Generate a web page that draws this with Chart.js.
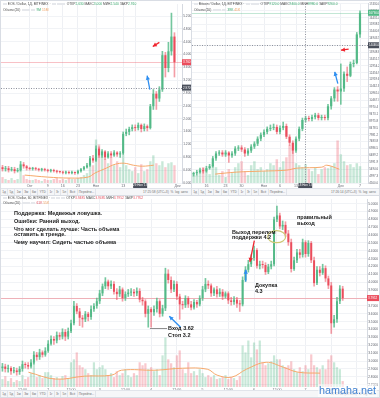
<!DOCTYPE html>
<html lang="ru"><head><meta charset="utf-8">
<title>EOS / Bitcoin</title>
<script src="https://cdn.jsdelivr.net/npm/chart.js@4.4.1/dist/chart.umd.min.js"></script>
<style>
html,body{margin:0;padding:0}
body{width:380px;height:398px;overflow:hidden;background:#fff;position:relative;font-family:Arial,"Liberation Sans",sans-serif}
.pane{position:absolute;box-sizing:border-box;border:1px solid #d9dde4;overflow:hidden;background:#fff}
.pane canvas{position:absolute;left:0;top:0}
.hdr{position:absolute;left:2px;font-size:3.3px;line-height:4px;color:#4a4a4a;white-space:nowrap;z-index:2}
.hdr .bx{display:inline-block;width:4px;height:2.6px;background:#e6e8ec;margin:0 .4px;vertical-align:middle}
.g{color:#3aa76d}.r{color:#e0505f}.o{color:#f0a060}
.tb{position:absolute;left:0;right:0;bottom:0;height:6px;background:#f5f6f8;border-top:1px solid #e1e4ea;font-size:3.2px;line-height:6px;color:#707070;white-space:nowrap;z-index:2}
.tb span{display:inline-block;padding:0 1.3px;border-right:1px solid #e1e4ea}
.tb .rt{position:absolute;right:2px;top:0;border:none}
.note{position:absolute;font-weight:bold;font-size:5.5px;line-height:6px;color:#1a1a1a;white-space:nowrap;z-index:3}
.wm{position:absolute;left:318px;top:384px;font-size:10.8px;line-height:13px;color:#3d7fd0;z-index:4;background:rgba(255,255,255,0.55);padding:0 1px}
</style></head>
<body>

<div class="pane" id="pA" style="left:0;top:0;width:192px;height:196px">
  <canvas id="cA" width="190" height="188"></canvas>
  <div class="hdr" style="top:1px"><span class="bx"></span>EOS / Dollar, 1Д, BITFINEX · <span class="bx"></span><span class="bx"></span><span class="bx"></span> ОТКР<span class="g">2.630</span> МАКС<span class="g">3.000</span> МИН<span class="g">2.540</span> ЗАКР<span class="g">2.910</span></div>
  <div class="hdr" style="top:7px">Объем (20) <span class="bx"></span><span class="bx"></span><span class="bx"></span> <span class="g">9M</span> <span class="o">15M</span></div>
  <div class="tb"><span>1д</span><span>5д</span><span>1м</span><span>3м</span><span>6м</span><span>YTD</span><span>1г</span><span>3г</span><span>5л</span><span>Всё</span><span>Перейти...</span><span class="rt">17:25:58 (UTC+3) &nbsp;% &nbsp;log &nbsp;авто</span></div>
</div>

<div class="pane" id="pB" style="left:191px;top:0;width:189px;height:196px">
  <canvas id="cB" width="187" height="188"></canvas>
  <div class="hdr" style="top:1px"><span class="bx"></span>Bitcoin / Dollar, 1Д, BITFINEX · <span class="bx"></span><span class="bx"></span><span class="bx"></span> ОТКР<span class="g">9120.0</span> МАКС<span class="g">9400.0</span> МИН<span class="g">8980.0</span> ЗАКР<span class="g">9260.0</span></div>
  <div class="hdr" style="top:7px">Объем (20) <span class="bx"></span><span class="bx"></span><span class="bx"></span> <span class="g">39K</span> <span class="o">41K</span></div>
  <div class="tb"><span>1д</span><span>5д</span><span>1м</span><span>3м</span><span>6м</span><span>YTD</span><span>1г</span><span>3г</span><span>5л</span><span>Всё</span><span>Перейти...</span><span class="rt">17:26:14 (UTC+3) &nbsp;% &nbsp;log &nbsp;авто</span></div>
</div>

<div class="pane" id="pC" style="left:0;top:195px;width:380px;height:203px">
  <canvas id="cC" width="378" height="196"></canvas>
  <div class="hdr" style="top:0px"><span class="bx"></span>EOS / Dollar, 60, BITFINEX · <span class="bx"></span><span class="bx"></span><span class="bx"></span> ОТКР<span class="r">3.9485</span> МАКС<span class="r">3.9485</span> МИН<span class="r">3.7952</span> ЗАКР<span class="r">3.7952</span></div>
  <div class="hdr" style="top:5px">Объем (20) <span class="bx"></span><span class="bx"></span><span class="bx"></span> <span class="r">61K</span> <span class="o">55K</span></div>
  <div class="tb"><span>1д</span><span>5д</span><span>1м</span><span>3м</span><span>6м</span><span>YTD</span><span>1г</span><span>3г</span><span>5л</span><span>Всё</span><span>Перейти...</span><span class="rt">17:27:02 (UTC+3) &nbsp;% &nbsp;log &nbsp;авто</span></div>
</div>

<div class="note" style="left:14px;top:210px">Поддержка: Медвежья ловушка.</div>
<div class="note" style="left:14px;top:218px">Ошибки: Ранний выход.</div>
<div class="note" style="left:14px;top:226px">Что мог сделать лучше: Часть объема</div>
<div class="note" style="left:14px;top:231px">оставить в тренде.</div>
<div class="note" style="left:14px;top:239px">Чему научил: Сидеть частью объема</div>
<div class="note" style="left:168px;top:325px">Вход 3.62</div>
<div class="note" style="left:168px;top:332px">Стоп 3.2</div>
<div class="note" style="left:232px;top:229px">Выход перелом</div>
<div class="note" style="left:232px;top:234px">поддержки 4.2</div>
<div class="note" style="left:255px;top:282px">Докупка</div>
<div class="note" style="left:255px;top:288px">4.3</div>
<div class="note" style="left:297px;top:214px">правильный</div>
<div class="note" style="left:297px;top:220px">выход</div>
<div class="wm">hamaha.net</div>

<script>
// ================= DATA =================
// --- Panel A: EOS / Dollar, daily ---
const eosDaySlots = 60;
const eosDayTickSlots = [9, 15, 20, 25, 31, 40, 44, 58];
const eosDayTickText  = ['Окт', '9', '16', '23', 'Ноя', '13', '20', 'Дек'];
const eosDayOpen  = [0.49,0.43,0.46,0.40,0.43,0.37,0.40,0.58,0.52,0.46, 0.44,0.46,0.43,0.41,0.43,0.40,0.38,0.40,0.37,0.35, 0.34,0.32,0.34,0.31,0.33,0.31,0.37,0.43,0.49,0.55, 0.77,0.70,1.07,0.86,0.98,0.80,0.92,0.86,0.95,0.89, 0.92,1.53,1.59,1.68,1.74,1.71,1.81,1.68,1.77,1.71, 2.39,2.78,2.63,2.91,3.98,3.58,4.10,4.56];
const eosDayClose = [0.43,0.46,0.40,0.43,0.37,0.40,0.58,0.52,0.46,0.44, 0.46,0.43,0.41,0.43,0.40,0.38,0.40,0.37,0.35,0.34, 0.32,0.34,0.31,0.33,0.31,0.37,0.43,0.49,0.55,0.77, 0.70,1.07,0.86,0.98,0.80,0.92,0.86,0.95,0.89,0.92, 1.53,1.59,1.68,1.74,1.71,1.81,1.68,1.77,1.71,2.39, 2.78,2.63,2.91,3.98,3.58,4.10,4.56,3.76];
const eosDayHigh  = [0.55,0.52,0.52,0.49,0.49,0.46,0.67,0.64,0.55,0.49, 0.49,0.49,0.46,0.46,0.46,0.43,0.43,0.43,0.40,0.37, 0.37,0.37,0.37,0.37,0.35,0.40,0.46,0.52,0.61,0.83, 0.86,1.16,1.13,1.04,1.01,0.98,0.98,1.01,0.98,0.98, 1.59,1.68,1.74,1.81,1.81,1.87,1.84,1.84,1.81,2.45, 2.91,2.85,3.00,4.10,4.07,4.38,5.29,4.68];
const eosDayLow   = [0.37,0.37,0.34,0.37,0.31,0.34,0.37,0.46,0.40,0.40, 0.40,0.40,0.37,0.37,0.37,0.34,0.34,0.34,0.31,0.31, 0.28,0.28,0.28,0.28,0.27,0.28,0.34,0.40,0.46,0.52, 0.64,0.67,0.80,0.80,0.73,0.77,0.80,0.83,0.83,0.80, 0.89,1.47,1.50,1.62,1.62,1.65,1.59,1.62,1.62,1.68, 2.29,2.29,2.54,2.85,3.30,3.46,3.98,3.30];
const eosDayVolume = [6,4,3,5,3,4,14,8,4,3, 3,4,3,2,4,3,3,4,5,3, 4,3,5,4,4,5,6,8,10,20, 18,44,39,32,24,20,26,18,22,16, 29,18,14,12,16,10,19,12,14,22, 28,20,18,22,16,20,21,18];
const eosDayVolMA = [[0,8],[10,6],[20,5],[28,6],[31,10],[36,15],[40,19],[44,20],[48,18],[52,17],[57,18]];

// --- Panel B: Bitcoin / Dollar, daily ---
const btcSlots = 55;
const btcTickSlots = [4, 10, 15, 22, 27, 32, 46, 52];
const btcTickText  = ['16', '23', '30', 'Ноя', '6', '13', 'Дек', '7'];
const btcOpen  = [5140,5210,5280,5420,5350,5570,5710,6280,6630,6700, 6560,6700,6490,6630,6990,7060,6920,6630,6840,7130, 7340,7700,7980,8190,8410,8480,8550,8190,8480,8620, 7840,7410,6840,7700,8410,9050,9190,9120,9260,9400, 9190,9260,9190,10040,10610,11250,11110,11320,12390,12240, 13100,13170,15230];
const btcClose = [5210,5280,5420,5350,5570,5710,6280,6630,6700,6560, 6700,6490,6630,6990,7060,6920,6630,6840,7130,7340, 7700,7980,8190,8410,8480,8550,8190,8480,8620,7840, 7410,6840,7700,8410,9050,9190,9120,9260,9400,9190, 9260,9190,10040,10610,11250,11110,11320,12390,12240,13100, 13170,15230,16790];
const btcHigh  = [5280,5420,5570,5570,5710,5850,6420,6770,6840,6840, 6840,6770,6770,7130,7200,7200,7060,6990,7270,7480, 7840,8120,8340,8550,8690,8760,8690,8620,8900,8760, 7980,7550,7840,8550,9190,9330,9330,9400,9540,9540, 9400,9400,10180,10750,11390,11460,13100,12530,12880,13240, 13380,15370,16930];
const btcLow   = [5000,5070,5210,5210,5280,5490,5640,6130,6490,6420, 6420,5990,6350,6490,6840,6770,6420,6490,6700,6990, 7200,7550,7840,8050,8270,8340,8050,8050,8340,7700, 7200,6630,6700,7550,8270,8900,8980,8980,9120,9050, 9050,9050,9050,9830,10400,10400,10180,11110,11820,12170, 12880,13100,15010];
const btcVolume = [10,8,14,16,12,9,18,16, 8,12,6,14,10, 16,20,22,12,8, 18,22,14,16,12, 14,20,18,24,16,22,26, 38,33, 20,18,16,19,14, 12,16,9,14,16, 15,17, 20,43, 29,22, 18,19,16, 20,17];
const btcVolMA = [[0,9],[8.9,11],[19.4,12],[29.8,13],[34,15],[44.4,16],[46.5,18],[51.7,14]];

// --- Panel C: EOS / Dollar, 60 min ---
const eosHourSlots = 128;
const eosHourTickSlots = [7, 16, 24, 34, 43, 52, 61, 70, 79, 88, 96, 106, 115, 124];
const eosHourTickText  = ['12:00','2','12:00','3','12:00','4','12:00','5','12:00','6','12:00','7','12:00','8'];
const eosHourOpen  = [2.91,2.93,2.90,2.91,2.87,2.88,2.86,2.90,2.96,2.95, 2.93,2.98,3.08,3.05,3.11,3.08,3.13,3.22,3.28,3.26, 3.33,3.31,3.37,3.31,3.38,3.48,3.70,3.63,3.55,3.53, 3.60,3.56,3.66,3.70,3.76,3.86,3.95,4.01,3.95,3.98, 3.88,3.85,3.91,3.80,3.85,3.87,3.88,3.86,3.89,3.78, 3.76,3.60,3.66,3.62,3.66,3.76,3.60,3.67,4.11,4.03, 3.91,3.98,3.82,3.72,3.71,3.80,3.72,3.68,3.75,3.72, 3.80,3.91,3.98,3.96,3.86,3.91,3.85,3.88,3.82,3.86, 3.77,3.75,3.78,3.73,3.72,4.03,4.16,4.23,4.31,4.41, 4.21,4.23,4.22,4.13,4.20,4.23,4.80,4.85,4.71,4.73, 4.62,4.51,4.17,4.28,4.38,4.35,4.51,4.36,4.50,4.28, 3.99,4.16,4.12,4.18,4.05,3.96,3.48,3.53,3.76,3.92];
const eosHourClose = [2.93,2.90,2.91,2.87,2.88,2.86,2.90,2.96,2.95,2.93, 2.98,3.08,3.05,3.11,3.08,3.13,3.22,3.28,3.26,3.33, 3.31,3.37,3.31,3.38,3.48,3.70,3.63,3.55,3.53,3.60, 3.56,3.66,3.70,3.76,3.86,3.95,4.01,3.95,3.98,3.88, 3.85,3.91,3.80,3.85,3.87,3.88,3.86,3.89,3.78,3.76, 3.60,3.66,3.62,3.66,3.76,3.60,3.67,4.11,4.03,3.91, 3.98,3.82,3.72,3.71,3.80,3.72,3.68,3.75,3.72,3.80, 3.91,3.98,3.96,3.86,3.91,3.85,3.88,3.82,3.86,3.77, 3.75,3.78,3.73,3.72,4.03,4.16,4.23,4.31,4.41,4.21, 4.23,4.22,4.13,4.20,4.23,4.80,4.85,4.71,4.73,4.62, 4.51,4.17,4.28,4.38,4.35,4.51,4.36,4.50,4.28,3.99, 4.16,4.12,4.18,4.05,3.96,3.48,3.53,3.76,3.92,3.80];
const eosHourHigh  = [2.97,2.96,2.95,2.93,2.92,2.91,2.93,3.00,2.98,2.98, 3.02,3.12,3.11,3.15,3.13,3.17,3.26,3.32,3.31,3.37, 3.36,3.41,3.40,3.42,3.52,3.76,3.73,3.67,3.58,3.63, 3.62,3.70,3.73,3.80,3.90,3.98,4.06,4.03,4.02,4.01, 3.92,3.95,3.93,3.88,3.91,3.92,3.91,3.93,3.92,3.81, 3.78,3.70,3.68,3.70,3.80,3.78,3.71,4.18,4.16,4.07, 4.02,4.01,3.85,3.76,3.83,3.82,3.76,3.78,3.77,3.83, 3.95,4.05,4.02,3.98,3.93,3.95,3.92,3.91,3.88,3.88, 3.81,3.82,3.81,3.77,4.07,4.20,4.28,4.35,4.46,4.43, 4.27,4.27,4.25,4.23,4.27,4.83,4.97,4.88,4.78,4.77, 4.66,4.55,4.32,4.42,4.42,4.55,4.53,4.53,4.52,4.32, 4.20,4.20,4.23,4.21,4.08,4.00,3.58,3.81,3.96,3.95];
const eosHourLow   = [2.87,2.86,2.86,2.83,2.85,2.82,2.83,2.87,2.91,2.90, 2.91,2.96,3.01,3.02,3.05,3.06,3.11,3.20,3.21,3.23, 3.27,3.28,3.26,3.28,3.36,3.46,3.60,3.45,3.43,3.50, 3.51,3.53,3.63,3.67,3.73,3.83,3.92,3.91,3.92,3.85, 3.78,3.82,3.76,3.77,3.82,3.83,3.82,3.83,3.75,3.71, 3.56,3.43,3.43,3.58,3.62,3.56,3.57,3.64,3.99,3.87, 3.88,3.78,3.53,3.66,3.68,3.68,3.65,3.66,3.68,3.70, 3.77,3.88,3.92,3.82,3.83,3.81,3.82,3.78,3.80,3.73, 3.71,3.72,3.68,3.63,3.70,4.01,4.13,4.20,4.28,4.18, 4.17,4.18,4.10,4.11,4.17,4.21,4.77,4.68,4.67,4.58, 4.47,4.13,4.15,4.25,4.31,4.32,4.32,4.33,4.25,3.95, 3.97,4.08,4.10,4.01,3.92,3.35,3.43,3.49,3.73,3.77];
const eosHourVolume = [8,11,6,9,5,7,6, 12,8,10,14,25,10,12,9,15, 15,12,9,10,8,11,12,9,25, 28,35,22,20,18, 14,12,25,18,20,22,18, 12,14,10,16,12,14,18,12, 10,14,12,25,22,24,18,20, 16,18,12,32,50, 28,24,20,32,37,18,14, 25,14,16,12,18,14,10,12, 10,12,8,9,10,12,8,10,9,7,11, 42,35,47,30,45,38,47, 25,22,24,26,32,28, 28,22,20,22,26,18,15,20,16,22,18, 33,22,20,18,22,18,28,32,25,20,18,6];
const eosHourVolMA = [[0,15],[11,8],[23,11],[34,12],[38,17],[52,17],[63,19],[73,18],[77,12],[83,10],[89,18],[97,25],[104,20],[110,15],[119,14]];

// annotation anchors (slot, price)
const eosDayMarks  = {crossPrice: 2.97, dateSlot: 51, dateText: "29 Ноя '17", redArrow: [59.5,4.38,56.6,4.25], blueArrow: [55.3,2.91,54.1,3.34]};
const btcMarks     = {crossPrice: 14446, crossSlot: 37.5, dateText: "18 Ноя '17", redArrow: [55.6,14160,52.4,14090], blueArrow: [51.1,11675,49.8,12528]};
const eosHourMarks = {entryArrow: [62.1,3.43,57.5,3.57], stopLine: [49.6,56.6,3.42], exitArrow: [92.2,4.53,90.4,4.26], addArrow: [88.7,4.01,88.7,4.16], ellipse: [101.3,4.58]};

// ================= DRAWING =================
const GREEN = '#53b987', RED = '#eb4d5c';
const GREEN_V = 'rgba(83,185,135,0.32)', RED_V = 'rgba(235,77,92,0.30)';

function buildLabels(n, slots, texts) {
  const a = new Array(n).fill('');
  slots.forEach((s, k) => { a[s] = texts[k]; });
  return a;
}
function X(ch, s) { return ch.scales.xl.getPixelForValue(s); }
function Y(ch, v) { return ch.scales.y.getPixelForValue(v); }
function arrow(ctx, x1, y1, x2, y2, col) {
  ctx.save(); ctx.strokeStyle = col; ctx.fillStyle = col; ctx.lineWidth = 1.3;
  ctx.beginPath(); ctx.moveTo(x1, y1); ctx.lineTo(x2, y2); ctx.stroke();
  const a = Math.atan2(y2 - y1, x2 - x1), L = 4.5;
  ctx.beginPath(); ctx.moveTo(x2, y2);
  ctx.lineTo(x2 - L * Math.cos(a - 0.5), y2 - L * Math.sin(a - 0.5));
  ctx.lineTo(x2 - L * Math.cos(a + 0.5), y2 - L * Math.sin(a + 0.5));
  ctx.closePath(); ctx.fill(); ctx.restore();
}
function hLine(ch, v, col, dash) {
  const {ctx, chartArea: a} = ch; const y = Math.round(Y(ch, v)) + 0.5;
  ctx.save(); ctx.strokeStyle = col; ctx.lineWidth = 1; if (dash) ctx.setLineDash(dash);
  ctx.beginPath(); ctx.moveTo(a.left, y); ctx.lineTo(a.right, y); ctx.stroke(); ctx.restore();
}
function vLine(ch, s, col, dash) {
  const {ctx, chartArea: a} = ch; const x = Math.round(X(ch, s)) + 0.5;
  ctx.save(); ctx.strokeStyle = col; ctx.lineWidth = 1; if (dash) ctx.setLineDash(dash);
  ctx.beginPath(); ctx.moveTo(x, a.top); ctx.lineTo(x, a.bottom); ctx.stroke(); ctx.restore();
}
function tag(ch, v, text, bg, fs) {
  const {ctx, chartArea: a} = ch; const y = Y(ch, v);
  ctx.save(); ctx.fillStyle = bg; ctx.fillRect(a.right, y - 3, ch.width - a.right, 6);
  ctx.fillStyle = '#fff'; ctx.font = fs + 'px Arial'; ctx.textBaseline = 'middle';
  ctx.fillText(text, a.right + 1, y + 0.3); ctx.restore();
}
function dateBox(ch, s, text) {
  const {ctx, chartArea: a} = ch; const x = X(ch, s);
  ctx.save(); ctx.fillStyle = '#4a4f5b'; ctx.fillRect(x - 7, a.bottom, 14, 5);
  ctx.fillStyle = '#fff'; ctx.font = '3px Arial'; ctx.textAlign = 'center'; ctx.textBaseline = 'middle';
  ctx.fillText(text, x, a.bottom + 2.6); ctx.restore();
}

function candleChart(id, c) {
  const labels = buildLabels(c.slots, c.tickSlots, c.tickText);
  const up = c.close.map((v, i) => v >= c.open[i]);
  const tickFont = {size: c.fs, family: 'Arial'};
  return new Chart(document.getElementById(id), {
    type: 'bar',
    data: {
      labels,
      datasets: [
        {label: 'body', data: c.open.map((o, i) => [o, c.close[i]]), backgroundColor: up.map(u => u ? GREEN : RED),
         barPercentage: 0.68, categoryPercentage: 1, grouped: false, minBarLength: 1, order: 0, yAxisID: 'y'},
        {label: 'wick', data: c.low.map((l, i) => [l, c.high[i]]), backgroundColor: up.map(u => u ? 'rgba(83,185,135,0.8)' : 'rgba(235,77,92,0.55)'),
         barThickness: 1, grouped: false, order: 1, yAxisID: 'y'},
        {label: 'vol', data: c.volume, backgroundColor: up.map(u => u ? GREEN_V : RED_V),
         barPercentage: 0.78, categoryPercentage: 1, grouped: false, order: 3, yAxisID: 'yv'},
        {type: 'line', label: 'ma', data: c.volMA.map(([x, y]) => ({x, y})), xAxisID: 'xl', yAxisID: 'yv',
         borderColor: '#f6a86a', borderWidth: 1, pointRadius: 0, tension: 0.4, order: 2}
      ]
    },
    options: {
      responsive: false, animation: false, events: [],
      layout: {padding: 0},
      plugins: {legend: {display: false}, tooltip: {enabled: false}},
      scales: {
        x: {type: 'category', offset: true,
            grid: {offset: false, drawTicks: false, color: g => labels[g.index] ? '#eef0f4' : 'rgba(0,0,0,0)'},
            border: {display: false},
            ticks: {autoSkip: false, maxRotation: 0, minRotation: 0, padding: 1, font: {size: 3.6, family: 'Arial'}, color: '#6a6d78', callback: (v, i) => labels[i]},
            afterFit: s => { s.height = c.xH; }},
        xl: {type: 'linear', display: false, min: -0.5, max: c.slots - 0.5},
        y: {type: 'linear', position: 'right', min: c.yMin, max: c.yMax,
            grid: {color: '#f1f3f6', drawTicks: false}, border: {display: true, color: '#d5d9e0'},
            ticks: {stepSize: c.step, includeBounds: false, padding: 1.2, font: tickFont, color: '#5d606b', callback: v => v.toFixed(c.digits)},
            afterFit: s => { s.width = c.yW; }},
        yv: {type: 'linear', display: false, min: 0, max: c.volMax}
      }
    },
    plugins: [{id: 'ov', beforeDatasetsDraw: ch => c.under(ch), afterDraw: ch => c.over(ch)}]
  });
}

// Panel A
candleChart('cA', {
  slots: eosDaySlots, tickSlots: eosDayTickSlots, tickText: eosDayTickText,
  open: eosDayOpen, high: eosDayHigh, low: eosDayLow, close: eosDayClose, volume: eosDayVolume, volMA: eosDayVolMA,
  yMin: 0, yMax: 5.57, step: 0.2, digits: 3, yW: 9, xH: 6, fs: 3.2, volMax: 181,
  under: ch => { hLine(ch, eosDayClose[eosDayClose.length - 1], 'rgba(235,77,92,0.35)'); },
  over: ch => {
    const m = eosDayMarks, ctx = ch.ctx;
    hLine(ch, m.crossPrice, '#8d919c', [1, 1.5]);
    tag(ch, m.crossPrice, m.crossPrice.toFixed(3), '#4a4f5b', 3);
    const last = eosDayClose[eosDayClose.length - 1];
    tag(ch, last, last.toFixed(3), RED, 3);
    dateBox(ch, m.dateSlot, m.dateText);
    const r = m.redArrow, b = m.blueArrow;
    arrow(ctx, X(ch, r[0]), Y(ch, r[1]), X(ch, r[2]), Y(ch, r[3]), '#f0262f');
    arrow(ctx, X(ch, b[0]), Y(ch, b[1]), X(ch, b[2]), Y(ch, b[3]), '#2e8ef0');
  }
});

// Panel B
candleChart('cB', {
  slots: btcSlots, tickSlots: btcTickSlots, tickText: btcTickText,
  open: btcOpen, high: btcHigh, low: btcLow, close: btcClose, volume: btcVolume, volMA: btcVolMA,
  yMin: 4500, yMax: 17430, step: 500, digits: 1, yW: 11, xH: 6, fs: 2.9, volMax: 181,
  under: ch => { hLine(ch, btcClose[btcClose.length - 1], 'rgba(83,185,135,0.35)'); },
  over: ch => {
    const m = btcMarks, ctx = ch.ctx;
    hLine(ch, m.crossPrice, '#8d919c', [1, 1.5]);
    vLine(ch, m.crossSlot, '#8d919c', [1, 1.5]);
    tag(ch, m.crossPrice, m.crossPrice.toFixed(1), '#4a4f5b', 2.8);
    const last = btcClose[btcClose.length - 1];
    tag(ch, last, last.toFixed(1), GREEN, 2.8);
    dateBox(ch, m.crossSlot, m.dateText);
    const r = m.redArrow, b = m.blueArrow;
    arrow(ctx, X(ch, r[0]), Y(ch, r[1]), X(ch, r[2]), Y(ch, r[3]), '#f0262f');
    arrow(ctx, X(ch, b[0]), Y(ch, b[1]), X(ch, b[2]), Y(ch, b[3]), '#2e8ef0');
  }
});

// Panel C
candleChart('cC', {
  slots: eosHourSlots, tickSlots: eosHourTickSlots, tickText: eosHourTickText,
  open: eosHourOpen, high: eosHourHigh, low: eosHourLow, close: eosHourClose, volume: eosHourVolume, volMA: eosHourVolMA,
  yMin: 2.67, yMax: 5.0575, step: 0.1, digits: 4, yW: 12, xH: 5, fs: 3.2, volMax: 190,
  under: ch => { hLine(ch, eosHourClose[eosHourClose.length - 1], 'rgba(235,77,92,0.4)'); },
  over: ch => {
    const m = eosHourMarks, ctx = ch.ctx;
    const last = eosHourClose[eosHourClose.length - 1];
    tag(ch, last, '3.7952', RED, 3);
    const s = m.stopLine;
    ctx.save(); ctx.strokeStyle = '#8f8f8f'; ctx.lineWidth = 1;
    ctx.beginPath(); ctx.moveTo(X(ch, s[0]), Math.round(Y(ch, s[2])) + 0.5); ctx.lineTo(X(ch, s[1]), Math.round(Y(ch, s[2])) + 0.5); ctx.stroke(); ctx.restore();
    const e = m.entryArrow, x = m.exitArrow, d = m.addArrow;
    arrow(ctx, X(ch, e[0]), Y(ch, e[1]), X(ch, e[2]), Y(ch, e[3]), '#2e8ef0');
    arrow(ctx, X(ch, x[0]), Y(ch, x[1]), X(ch, x[2]), Y(ch, x[3]), '#f0262f');
    arrow(ctx, X(ch, d[0]), Y(ch, d[1]), X(ch, d[2]), Y(ch, d[3]), '#2e8ef0');
    ctx.save(); ctx.strokeStyle = '#cdc774'; ctx.lineWidth = 1.2;
    ctx.beginPath(); ctx.ellipse(X(ch, m.ellipse[0]), Y(ch, m.ellipse[1]), 9, 6, 0, 0, Math.PI * 2); ctx.stroke(); ctx.restore();
  }
});
</script>
</body></html>
